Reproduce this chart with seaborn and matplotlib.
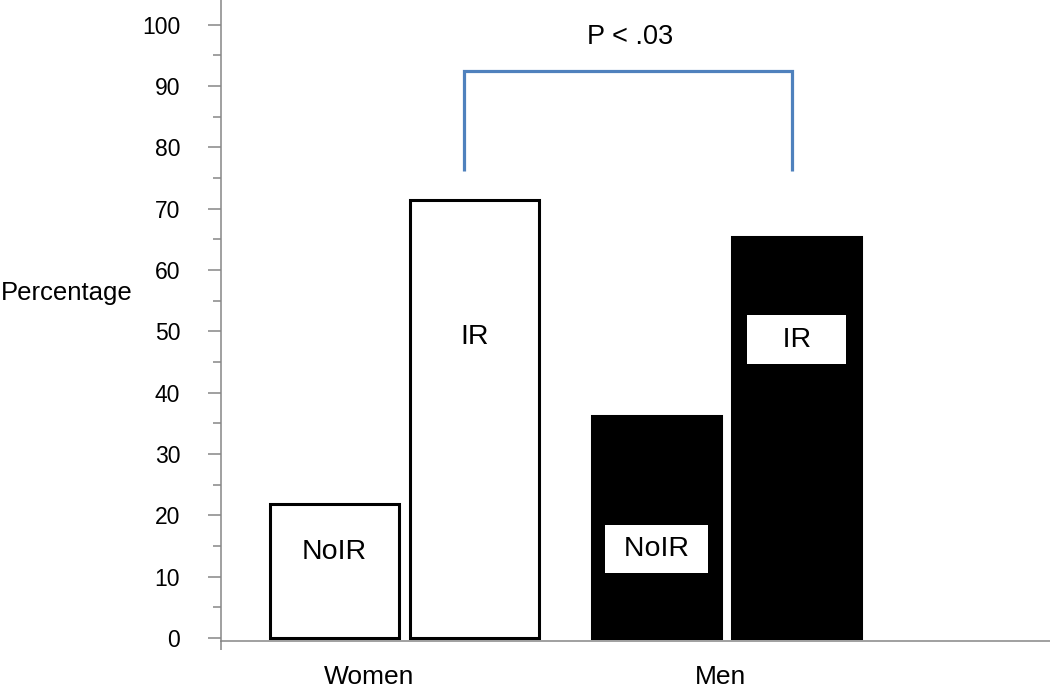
import matplotlib
matplotlib.use("Agg")
import matplotlib.pyplot as plt
from matplotlib.ticker import MultipleLocator
import seaborn as sns
import pandas as pd

# ---- data ----
groups = ["Women", "Women", "Men", "Men"]
status = ["NoIR", "IR", "NoIR", "IR"]
percentage = [21.8, 71.4, 36.2, 65.3]
bar_labels = ["NoIR", "IR", "NoIR", "IR"]
label_y = [14.0, 49.0, 14.5, 48.6]
group_order = ["Women", "Men"]
status_order = ["NoIR", "IR"]
group_colors = {"Women": "white", "Men": "black"}
yticks = list(range(0, 101, 10))
p_text = "P < .03"
bracket_x = [0.185, 1.205]
bracket_y = [76.1, 92.4]
p_text_pos = (0.70, 97.9)
xlabel_pos = [-0.11, 0.98]

df = pd.DataFrame({"group": groups, "status": status, "pct": percentage})

sns.set_theme(style="white")
plt.rcParams["font.family"] = ["Liberation Sans", "DejaVu Sans"]

GRAY = "#868686"
fig = plt.figure(figsize=(10.5, 6.89), dpi=100)
ax = fig.add_axes([221 / 1050, 48 / 689, 829 / 1050, 641 / 689])

for g in group_order:
    sub = df[df["group"] == g]
    sns.barplot(data=sub, x="group", y="pct", hue="status", order=group_order,
                hue_order=status_order,
                palette={s: group_colors[g] for s in status_order},
                saturation=1, edgecolor="black", linewidth=2.2,
                width=0.87, gap=0.08, dodge=True, legend=False, ax=ax)

# bars sorted by position: Women NoIR, Women IR, Men NoIR, Men IR
bars = sorted([p for p in ax.patches if p.get_height() > 0], key=lambda p: p.get_x())
for i, p in enumerate(bars):
    xc = p.get_x() + p.get_width() / 2
    if groups[i] == "Men":
        pad_spaces = " " if bar_labels[i] == "NoIR" else "   "
        ax.text(xc, label_y[i], pad_spaces + bar_labels[i] + pad_spaces,
                ha="center", va="center", fontsize=20.5, color="black",
                bbox=dict(boxstyle="square,pad=0.4", facecolor="white", edgecolor="none"))
    else:
        ax.text(xc, label_y[i], bar_labels[i], ha="center", va="center",
                fontsize=20.5, color="black")

# significance bracket
ax.plot([bracket_x[0], bracket_x[0], bracket_x[1], bracket_x[1]],
        [bracket_y[0], bracket_y[1], bracket_y[1], bracket_y[0]],
        color="#4F81BD", lw=2.3, solid_capstyle="butt", solid_joinstyle="miter")
ax.text(p_text_pos[0], p_text_pos[1], p_text, ha="center", va="center",
        fontsize=19.5, color="black")

ax.set_xlim(-0.57, 2.005)
ax.set_ylim(-0.5, 104)

ax.set_yticks(yticks)
ax.set_yticklabels([str(v) for v in yticks])
ax.yaxis.set_minor_locator(MultipleLocator(5))
ax.tick_params(axis="y", which="major", left=True, length=9.4, width=1.1,
               color=GRAY, pad=20, labelsize=16.5, labelcolor="black", direction="out")
ax.tick_params(axis="y", which="minor", left=True, length=5.8, width=1.1,
               color=GRAY, direction="out")

ax.set_xticks(xlabel_pos)
ax.set_xticklabels(group_order)
ax.set_xticks([-0.57], minor=True)
ax.tick_params(axis="x", which="major", length=0, pad=17, labelsize=19, labelcolor="black")
ax.tick_params(axis="x", which="minor", bottom=True, length=6.5, width=1.1,
               color=GRAY, direction="out")

ax.set_xlabel("")
ax.set_ylabel("Percentage", rotation=0, fontsize=18.5, ha="right", va="center", color="black")
ax.yaxis.set_label_coords(-0.107, 0.543)

for side in ["top", "right"]:
    ax.spines[side].set_visible(False)
for side in ["left", "bottom"]:
    ax.spines[side].set_color(GRAY)
    ax.spines[side].set_linewidth(1.1)

fig.savefig("out.png", dpi=100)
